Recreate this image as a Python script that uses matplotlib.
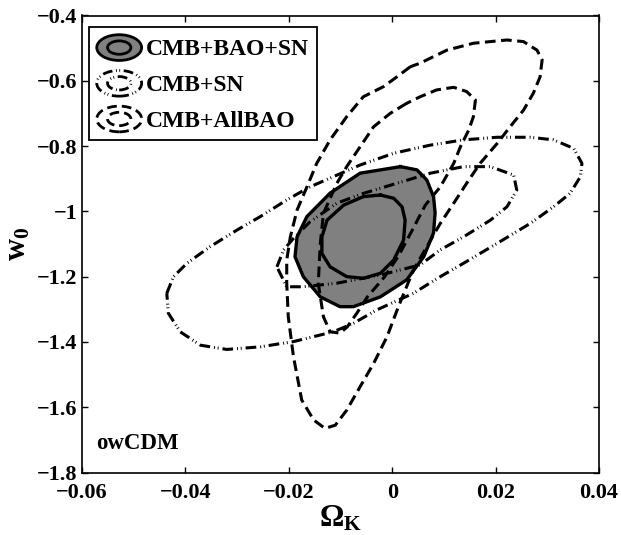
import matplotlib
matplotlib.use("Agg")
import matplotlib.pyplot as plt
from matplotlib.patches import Ellipse
from matplotlib.legend_handler import HandlerBase

plt.rcParams['font.family'] = ['Liberation Serif', 'DejaVu Serif']
plt.rcParams['font.weight'] = 'bold'
plt.rcParams['mathtext.fontset'] = 'custom'
plt.rcParams['mathtext.rm'] = 'Liberation Serif:bold'
plt.rcParams['mathtext.bf'] = 'Liberation Serif:bold'
plt.rcParams['mathtext.it'] = 'Liberation Serif:bold'

# ---------------- data ----------------
# CMB+BAO+SN, 95% and 68% contours
bs_out_x = [0.0016, -0.0062, -0.0120, -0.0165, -0.0184, -0.0188, -0.0172, -0.0139, -0.0101,
            -0.0075, -0.0023, 0.0028, 0.0061, 0.0080, 0.0083, 0.0080, 0.0067, 0.0048]
bs_out_y = [-0.863, -0.883, -0.944, -1.016, -1.078, -1.139, -1.200, -1.262, -1.292,
            -1.292, -1.262, -1.210, -1.139, -1.066, -1.005, -0.955, -0.904, -0.873]
bs_in_x = [-0.0023, -0.0056, -0.0094, -0.0126, -0.0136, -0.0136, -0.0120, -0.0088,
           -0.0056, -0.0023, 0.0003, 0.0022, 0.0025, 0.0019, 0.0003]
bs_in_y = [-0.950, -0.955, -0.981, -1.027, -1.078, -1.129, -1.170, -1.200,
           -1.205, -1.190, -1.149, -1.088, -1.027, -0.986, -0.960]

# CMB+SN contours
sn_out_x = [-0.0436, -0.0423, -0.0397, -0.0352, -0.0300, -0.0255, -0.0204, -0.0159, -0.0107,
            -0.0062, 0.0003, 0.0074, 0.0138, 0.0203, 0.0267, 0.0312, 0.0351, 0.0367, 0.0364,
            0.0344, 0.0312, 0.0267, 0.0203, 0.0138, 0.0093, 0.0041, -0.0030, -0.0075,
            -0.0114, -0.0191, -0.0255, -0.0320, -0.0371, -0.0410, -0.0433]
sn_out_y = [-1.251, -1.200, -1.159, -1.108, -1.057, -1.016, -0.965, -0.925, -0.889,
            -0.858, -0.822, -0.797, -0.781, -0.773, -0.773, -0.781, -0.807, -0.853, -0.894,
            -0.945, -0.986, -1.037, -1.098, -1.159, -1.200, -1.251, -1.302, -1.343,
            -1.369, -1.399, -1.415, -1.423, -1.410, -1.369, -1.312]
sn_in_x = [-0.0223, -0.0210, -0.0191, -0.0159, -0.0107, -0.0056, 0.0009, 0.0074, 0.0138,
           0.0190, 0.0235, 0.0241, 0.0222, 0.0190, 0.0138, 0.0093, 0.0054, -0.0023,
           -0.0107, -0.0172, -0.0204]
sn_in_y = [-1.170, -1.118, -1.083, -1.032, -0.975, -0.945, -0.914, -0.883, -0.863,
           -0.863, -0.889, -0.935, -0.986, -1.027, -1.078, -1.118, -1.164, -1.195,
           -1.220, -1.231, -1.231]

# CMB+AllBAO contours
ab_out_x = [0.0035, 0.0009, -0.0017, -0.0056, -0.0088, -0.0120, -0.0146, -0.0162, -0.0184,
            -0.0197, -0.0204, -0.0204, -0.0201, -0.0191, -0.0175, -0.0152, -0.0130, -0.0110,
            -0.0088, -0.0062, -0.0036, -0.0010, 0.0012, 0.0041, 0.0067, 0.0093, 0.0119,
            0.0144, 0.0170, 0.0203, 0.0228, 0.0254, 0.0273, 0.0286, 0.0290, 0.0280, 0.0254,
            0.0222, 0.0157, 0.0106, 0.0054]
ab_out_y = [-0.557, -0.588, -0.618, -0.649, -0.710, -0.781, -0.853, -0.914, -0.996,
            -1.078, -1.149, -1.220, -1.323, -1.445, -1.578, -1.639, -1.665, -1.655,
            -1.609, -1.537, -1.466, -1.384, -1.292, -1.180, -1.108, -1.037, -0.975,
            -0.914, -0.853, -0.792, -0.741, -0.690, -0.638, -0.588, -0.536, -0.506, -0.480,
            -0.475, -0.485, -0.506, -0.546]
ab_in_x = [0.0028, -0.0004, -0.0036, -0.0062, -0.0088, -0.0107, -0.0133, -0.0139, -0.0143,
           -0.0133, -0.0120, -0.0101, -0.0087, -0.0068, -0.0048, -0.0015, 0.0012, 0.0039,
           0.0064, 0.0093, 0.0119, 0.0132, 0.0148, 0.0157, 0.0161, 0.0144, 0.0119, 0.0086,
           0.0054]
ab_in_y = [-0.669, -0.700, -0.741, -0.802, -0.863, -0.914, -1.006, -1.098, -1.220,
           -1.323, -1.369, -1.373, -1.354, -1.311, -1.262, -1.201, -1.137, -1.057,
           -0.981, -0.925, -0.853, -0.802, -0.751, -0.710, -0.659, -0.633, -0.620, -0.628,
           -0.649]

legend_labels = ['CMB+BAO+SN', 'CMB+SN', 'CMB+AllBAO']
x_ticks = [-0.06, -0.04, -0.02, 0.0, 0.02, 0.04]
x_ticklabels = ['\u22120.06', '\u22120.04', '\u22120.02', '0', '0.02', '0.04']
y_ticks = [-1.8, -1.6, -1.4, -1.2, -1.0, -0.8, -0.6, -0.4]
y_ticklabels = ['\u22121.8', '\u22121.6', '\u22121.4', '\u22121.2', '\u22121', '\u22120.8',
                '\u22120.6', '\u22120.4']
model_label = 'owCDM'

# ---------------- styles ----------------
FILL = '#808080'
LW_SOLID = 2.4
LW_DASH = 2.2
DASH = (0, (3.5, 1.8))
DASHDOT = (0, (3.5, 1.3, 0.3, 0.9, 0.3, 1.3))


def closed(x, y):
    return list(x) + [x[0]], list(y) + [y[0]]


fig = plt.figure(figsize=(6.21, 5.35), dpi=100)
ax = fig.add_axes([82 / 621, 1 - 472.5 / 535, 517 / 621, 457 / 535])

# filled CMB+BAO+SN region
ax.fill(bs_out_x, bs_out_y, color=FILL, zorder=1, lw=0)

for (xs, ys, ls, lw) in [
    (sn_out_x, sn_out_y, DASHDOT, LW_DASH),
    (sn_in_x, sn_in_y, DASHDOT, LW_DASH),
    (ab_out_x, ab_out_y, DASH, LW_DASH),
    (ab_in_x, ab_in_y, DASH, LW_DASH),
    (bs_out_x, bs_out_y, '-', LW_SOLID),
    (bs_in_x, bs_in_y, '-', LW_SOLID),
]:
    cx, cy = closed(xs, ys)
    ax.plot(cx, cy, color='black', linestyle=ls, lw=lw, zorder=3,
            solid_joinstyle='round', dash_capstyle='butt')

ax.set_xlim(-0.06, 0.04)
ax.set_ylim(-1.8, -0.4)
ax.set_xticks(x_ticks)
ax.set_xticklabels(x_ticklabels)
ax.set_yticks(y_ticks)
ax.set_yticklabels(y_ticklabels)
ax.tick_params(direction='in', top=True, right=True, length=4.5, width=1.0,
               labelsize=16)
ax.tick_params(axis='x', pad=7.5)
ax.tick_params(axis='y', pad=3.5)
for lab in ax.get_xticklabels() + ax.get_yticklabels():
    lab.set_fontweight('bold')
for s in ax.spines.values():
    s.set_linewidth(1.2)

ax.set_xlabel(r'$\mathbf{\Omega_K}$', fontsize=22, labelpad=1)
ax.set_ylabel(r'$\mathbf{w_0}$', fontsize=22, labelpad=3)

ax.text(-0.0572, -1.712, model_label, fontsize=16.5, fontweight='bold',
        ha='left', va='center')


# ---------------- legend with ring icons ----------------
class RingKey:
    def __init__(self, face, ls, lw):
        self.face = face
        self.ls = ls
        self.lw = lw


class HandlerRings(HandlerBase):
    def create_artists(self, legend, orig_handle, xdescent, ydescent, width,
                       height, fontsize, trans):
        cx = width / 2 - xdescent
        cy = height / 2 - ydescent
        outer = Ellipse((cx, cy), width, height, facecolor=orig_handle.face,
                        edgecolor='black', linestyle=orig_handle.ls,
                        lw=orig_handle.lw, transform=trans)
        inner = Ellipse((cx, cy), width * 0.52, height * 0.52,
                        facecolor=orig_handle.face, edgecolor='black',
                        linestyle=orig_handle.ls, lw=orig_handle.lw,
                        transform=trans)
        return [outer, inner]


keys = [RingKey(FILL, '-', 2.0), RingKey('none', DASHDOT, 2.0),
        RingKey('none', DASH, 2.0)]
leg = ax.legend(keys, legend_labels, handler_map={RingKey: HandlerRings()},
                loc='upper left', bbox_to_anchor=(0.0135, 0.975),
                borderaxespad=0, fontsize=17, handlelength=1.9,
                handleheight=1.3, handletextpad=0.2, borderpad=0.33,
                labelspacing=0.42, fancybox=False, framealpha=1,
                edgecolor='black', prop={'weight': 'bold', 'size': 17})
leg.get_frame().set_linewidth(1.3)

fig.savefig('out.png', dpi=100)
